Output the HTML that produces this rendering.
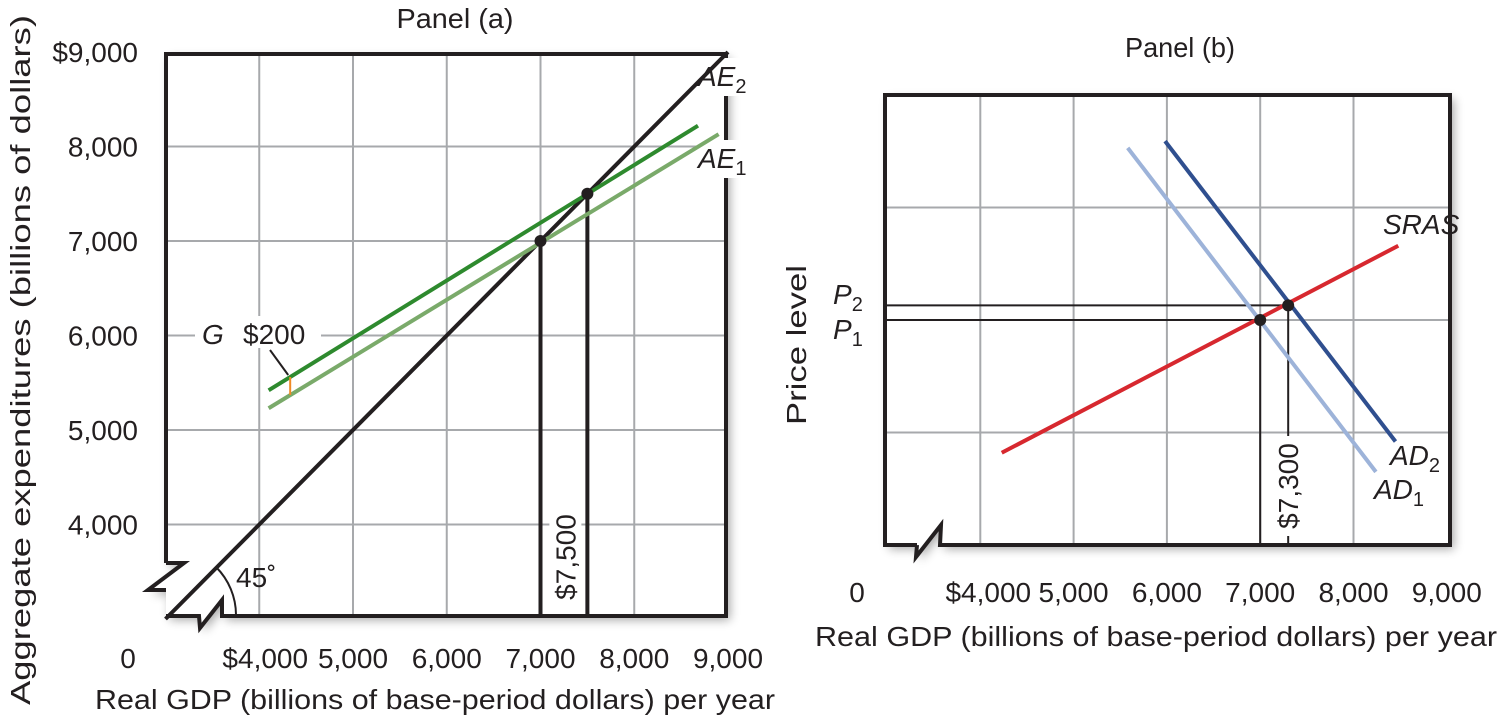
<!DOCTYPE html>
<html><head><meta charset="utf-8">
<style>
html,body{margin:0;padding:0;background:#fff;}
svg{display:block;font-family:"Liberation Sans",sans-serif;}
text{fill:#231f20;}
</style></head>
<body>
<svg id="chart" width="1499" height="720" viewBox="0 0 1499 720">
<defs>
<filter id="sh" x="-10%" y="-10%" width="130%" height="130%"><feGaussianBlur in="SourceAlpha" stdDeviation="5"/><feOffset dx="4" dy="4"/><feComponentTransfer><feFuncA type="linear" slope="0.35"/></feComponentTransfer><feMerge><feMergeNode/><feMergeNode in="SourceGraphic"/></feMerge></filter>
</defs>
<g id="pa"></g>
<g id="pb"></g>
</svg>
<script>
// Panel (a) data
const aTicksX = [4000,5000,6000,7000,8000,9000];
const aTickLabelsX = ["$4,000","5,000","6,000","7,000","8,000","9,000"];
const aTicksY = [4000,5000,6000,7000,8000,9000];
const aTickLabelsY = ["4,000","5,000","6,000","7,000","8,000","$9,000"];
const line45 = [[3000,3000],[9000,9000]];
const ae2 = [[4100,5420],[8680,8220]];
const ae1 = [[4100,5230],[8900,8130]];
const aEquilibria = [[7000,7000],[7500,7500]];
// Panel (b) data
const bTicksX = [4000,5000,6000,7000,8000,9000];
const bTickLabelsX = ["$4,000","5,000","6,000","7,000","8,000","9,000"];
const bGridY = [1,2,3];
const sras = [[4230,0.82],[8480,2.66]];
const ad2 = [[5980,3.59],[8450,0.92]];
const ad1 = [[5580,3.53],[8240,0.65]];
const bEquilibria = [[7000,2.0],[7300,2.13]];

const NS="http://www.w3.org/2000/svg";
function mk(parent,tag,attrs,txt){const e=document.createElementNS(NS,tag);for(const k in attrs)e.setAttribute(k,attrs[k]);if(txt!==undefined)e.textContent=txt;parent.appendChild(e);return e;}
const FS=28;

// ---- Panel a ----
const pa=document.getElementById('pa');
const ax=v=>165.5+(v-3000)*0.09375;
const ay=v=>52+(9000-v)*0.0945;
let t=mk(pa,'text',{x:455,y:28,'font-size':FS,'text-anchor':'middle',textLength:117,lengthAdjust:'spacingAndGlyphs'},'Panel (a)');


const fa=mk(pa,'g',{filter:'url(#sh)'});


mk(fa,'path',{d:`M166,54 H726 V616 H222 L222,600 L200,628 L199,616 H166 V590 H148 L184,563 H166 Z`,fill:'#fff',stroke:'none'});
aTicksX.forEach(v=>{if(v<9000){const l=mk(pa,'line',{x1:ax(v),x2:ax(v),y1:54,y2:615,stroke:'#a7a9ac','stroke-width':2});

}});
aTicksY.forEach(v=>{if(v<9000){const l=mk(pa,'line',{x1:166,x2:726,y1:ay(v),y2:ay(v),stroke:'#a7a9ac','stroke-width':2});

}});
let fr=mk(pa,'path',{d:`M166,563 V54 H726 V616 H222 L222,600 L200,628 L199,616 H166 M166,590 H148 L184,563 H166`,fill:'none',stroke:'#231f20','stroke-width':4,'stroke-linejoin':'miter'});


let arc=mk(pa,'path',{d:`M216,567 A68,68 0 0 1 236,615`,fill:'none',stroke:'#231f20','stroke-width':2});


t=mk(pa,'text',{x:236,y:587,'font-size':FS},'45˚');


function seg(g,pts,fx,fy,attrs,name){const l=mk(g,'line',Object.assign({x1:fx(pts[0][0]),y1:fy(pts[0][1]),x2:fx(pts[1][0]),y2:fy(pts[1][1])},attrs));return l;}
aEquilibria.forEach((p,i)=>{const l=mk(pa,'line',{x1:ax(p[0]),x2:ax(p[0]),y1:ay(p[1]),y2:615,stroke:'#231f20','stroke-width':4});

});
mk(pa,'rect',{x:ax(7500)-38,y:508,width:32,height:98,fill:'#fff'});
t=mk(pa,'text',{x:0,y:0,'font-size':FS,'text-anchor':'middle',transform:`translate(${ax(7500)-12},557) rotate(-90)`},'$7,500');


mk(pa,'rect',{x:700,y:58,width:52,height:38,fill:'#fff'});
mk(pa,'rect',{x:700,y:140,width:52,height:38,fill:'#fff'});
seg(pa,line45,ax,ay,{stroke:'#231f20','stroke-width':4},'45-degree-line');
seg(pa,ae1,ax,ay,{stroke:'#7aaa6a','stroke-width':4},'ae1-line');
seg(pa,ae2,ax,ay,{stroke:'#2e8a2e','stroke-width':4},'ae2-line');
aEquilibria.forEach(p=>{const c=mk(pa,'circle',{cx:ax(p[0]),cy:ay(p[1]),r:6,fill:'#231f20'});

});
const gx=4330;
const slope=(ae2[1][1]-ae2[0][1])/(ae2[1][0]-ae2[0][0]);
const g2=ae2[0][1]+slope*(gx-ae2[0][0]), g1=ae1[0][1]+slope*(gx-ae1[0][0]);
let gm=mk(pa,'line',{x1:ax(gx),x2:ax(gx),y1:ay(g2),y2:ay(g1),stroke:'#f08a24','stroke-width':2});


let ld=mk(pa,'line',{x1:270,y1:350,x2:ax(gx)-2,y2:ay(g2)-2,stroke:'#231f20','stroke-width':2});


mk(pa,'rect',{x:195,y:316,width:126,height:32,fill:'#fff'});
t=mk(pa,'text',{x:202,y:344,'font-size':FS,'font-style':'italic'},'G');


t=mk(pa,'text',{x:243,y:344,'font-size':FS},'$200');


t=mk(pa,'text',{x:698,y:86,'font-size':FS,'font-style':'italic'});
t.innerHTML='AE<tspan font-size="20" dy="7" font-style="normal">2</tspan>';


t=mk(pa,'text',{x:698,y:168,'font-size':FS,'font-style':'italic'});
t.innerHTML='AE<tspan font-size="20" dy="7" font-style="normal">1</tspan>';


aTicksY.forEach((v,i)=>{const e=mk(pa,'text',{x:138,y:ay(v)+10,'font-size':FS,'text-anchor':'end'},aTickLabelsY[i]);

});
aTicksX.forEach((v,i)=>{const e=mk(pa,'text',{x:ax(v)+(i==0?6:0),y:668,'font-size':FS,'text-anchor':'middle'},aTickLabelsX[i]);

});
t=mk(pa,'text',{x:128,y:668,'font-size':FS,'text-anchor':'middle'},'0');


t=mk(pa,'text',{x:435,y:709,'font-size':FS,'text-anchor':'middle',textLength:680,lengthAdjust:'spacingAndGlyphs'},'Real GDP (billions of base-period dollars) per year');


t=mk(pa,'text',{x:0,y:0,'font-size':FS,'text-anchor':'middle',textLength:690,lengthAdjust:'spacingAndGlyphs',transform:'translate(30,360) rotate(-90)'},'Aggregate expenditures (billions of dollars)');



// ---- Panel b ----
const pb=document.getElementById('pb');
const bx=v=>887+(v-3000)*0.0933;
const by=v=>545-v*112.5;
t=mk(pb,'text',{x:1180,y:57,'font-size':FS,'text-anchor':'middle',textLength:110,lengthAdjust:'spacingAndGlyphs'},'Panel (b)');


const fb=mk(pb,'g',{filter:'url(#sh)'});


mk(fb,'path',{d:'M885,95 H1450 V545 H940 L941,525 L916,557 L917,545 H885 Z',fill:'#fff'});
bTicksX.forEach(v=>{if(v<9000&&v>3000){const l=mk(pb,'line',{x1:bx(v),x2:bx(v),y1:95,y2:545,stroke:'#a7a9ac','stroke-width':2});

}});
bGridY.forEach(v=>{const l=mk(pb,'line',{x1:885,x2:1450,y1:by(v),y2:by(v),stroke:'#a7a9ac','stroke-width':2});

});
fr=mk(pb,'path',{d:'M917,545 H885 V95 H1450 V545 H940 L941,525 L916,557 L917,545',fill:'none',stroke:'#231f20','stroke-width':4});


bEquilibria.forEach((p,i)=>{
 const h=mk(pb,'line',{x1:885,x2:bx(p[0]),y1:by(p[1]),y2:by(p[1]),stroke:'#231f20','stroke-width':2});
 
 
 const v=mk(pb,'line',{x1:bx(p[0]),x2:bx(p[0]),y1:by(p[1]),y2:545,stroke:'#231f20','stroke-width':2});
 
 
});
seg(pb,ad1,bx,by,{stroke:'#9db3d9','stroke-width':4},'ad1-line');
seg(pb,ad2,bx,by,{stroke:'#2f4f8f','stroke-width':4},'ad2-line');
seg(pb,sras,bx,by,{stroke:'#d7282f','stroke-width':4},'sras-line');
bEquilibria.forEach(p=>{const c=mk(pb,'circle',{cx:bx(p[0]),cy:by(p[1]),r:6,fill:'#231f20'});

});
mk(pb,'rect',{x:bx(7300)-14,y:436,width:30,height:100,fill:'#fff'});
t=mk(pb,'text',{x:0,y:0,'font-size':FS,'text-anchor':'middle',transform:`translate(${bx(7300)+10},486) rotate(-90)`},'$7,300');


t=mk(pb,'text',{x:1383,y:234,'font-size':FS,'font-style':'italic'},'SRAS');


t=mk(pb,'text',{x:1390,y:465,'font-size':FS,'font-style':'italic'});
t.innerHTML='AD<tspan font-size="20" dy="7" font-style="normal">2</tspan>';


t=mk(pb,'text',{x:1374,y:499,'font-size':FS,'font-style':'italic'});
t.innerHTML='AD<tspan font-size="20" dy="7" font-style="normal">1</tspan>';


t=mk(pb,'text',{x:833,y:304,'font-size':FS,'font-style':'italic'});
t.innerHTML='P<tspan font-size="20" dy="7" font-style="normal">2</tspan>';


t=mk(pb,'text',{x:833,y:339,'font-size':FS,'font-style':'italic'});
t.innerHTML='P<tspan font-size="20" dy="7" font-style="normal">1</tspan>';


bTicksX.forEach((v,i)=>{const e=mk(pb,'text',{x:bx(v)+(i==0?8:0),y:602,'font-size':FS,'text-anchor':'middle'},bTickLabelsX[i]);

});
t=mk(pb,'text',{x:857,y:602,'font-size':FS,'text-anchor':'middle'},'0');


t=mk(pb,'text',{x:1156,y:646,'font-size':FS,'text-anchor':'middle',textLength:682,lengthAdjust:'spacingAndGlyphs'},'Real GDP (billions of base-period dollars) per year');


t=mk(pb,'text',{x:0,y:0,'font-size':FS,'text-anchor':'middle',textLength:160,lengthAdjust:'spacingAndGlyphs',transform:'translate(806,345) rotate(-90)'},'Price level');


</script>
</body></html>
